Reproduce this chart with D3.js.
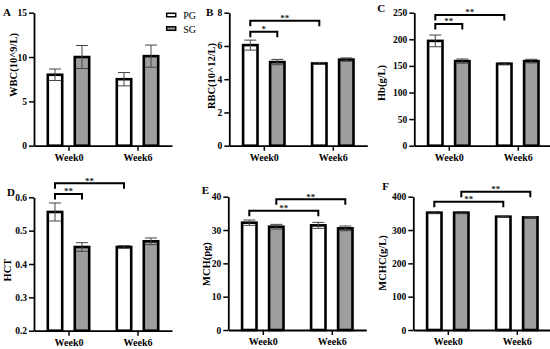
<!DOCTYPE html>
<html><head><meta charset="utf-8">
<script src="https://cdn.jsdelivr.net/npm/d3@7"></script>
<style>body{margin:0;background:#fff} svg{display:block}</style>
</head><body>
<svg id="c" width="550" height="349"></svg>
<script>
const groups = ["Week0", "Week6"];
const series = ["PG", "SG"];
// values ordered [PG-Week0, SG-Week0, PG-Week6, SG-Week6]
const wbcMean = [8.0, 10.0, 7.5, 10.1];
const wbcErr = [0.65, 1.3, 0.75, 1.25];
const rbcMean = [6.05, 5.03, 4.95, 5.18];
const rbcErr = [0.3, 0.16, 0.06, 0.1];
const hbMean = [197, 159, 154, 159];
const hbErr = [11, 4, 2, 3.5];
const hctMean = [0.556, 0.451, 0.451, 0.468];
const hctErr = [0.027, 0.013, 0.004, 0.01];
const mchMean = [32.2, 31.0, 31.4, 30.5];
const mchErr = [0.8, 0.7, 0.9, 0.7];
const mchcMean = [352, 352, 340, 338];
const mchcErr = [3, 3, 2, 2];

const wbcTicks = [0, 5, 10, 15];
const rbcTicks = [0, 2, 4, 6, 8];
const hbTicks = [0, 50, 100, 150, 200, 250];
const hctTicks = [0.2, 0.3, 0.4, 0.5, 0.6];
const mchTicks = [0, 10, 20, 30, 40];
const mchcTicks = [0, 100, 200, 300, 400];

// significance brackets: [fromBarIndex, toBarIndex, level (data units), label]
const wbcSig = [];
const rbcSig = [[0, 1, 6.86, "*"], [0, 2, 7.52, "**"]];
const hbSig = [[0, 1, 228.8, "**"], [0, 2, 245.7, "**"]];
const hctSig = [[0, 1, 0.61, "**"], [0, 2, 0.642, "**"]];
const mchSig = [[0, 2, 35.8, "**"], [1, 3, 39.2, "**"]];
const mchcSig = [[0, 2, 385, "**"], [1, 3, 415, "**"]];

const panels = [
  {id: "A", title: "WBC(10^9/L)", mean: wbcMean, err: wbcErr, ticks: wbcTicks, sig: wbcSig, domain: [0, 15], fmt: d3.format("d"),
   left: 34, top: 12.7, bottom: 145.7, lx: 3, ly: 16, tx: 13.5, ty: 65},
  {id: "B", title: "RBC(10^12/L)", mean: rbcMean, err: rbcErr, ticks: rbcTicks, sig: rbcSig, domain: [0, 8], fmt: d3.format("d"),
   left: 229.3, top: 12.7, bottom: 145.7, lx: 206, ly: 16, tx: 211.7, ty: 76},
  {id: "C", title: "Hb(g/L)", mean: hbMean, err: hbErr, ticks: hbTicks, sig: hbSig, domain: [0, 250], fmt: d3.format("d"),
   left: 414.3, top: 12.7, bottom: 145.7, lx: 377.3, ly: 11.7, tx: 381, ty: 83},
  {id: "D", title: "HCT", mean: hctMean, err: hctErr, ticks: hctTicks, sig: hctSig, domain: [0.2, 0.6], fmt: d3.format(".1f"),
   left: 34, top: 197.3, bottom: 330.7, lx: 7, ly: 196, tx: 7, ty: 270},
  {id: "E", title: "MCH(pg)", mean: mchMean, err: mchErr, ticks: mchTicks, sig: mchSig, domain: [0, 40], fmt: d3.format("d"),
   left: 228.3, top: 196.7, bottom: 330, lx: 201.7, ly: 194, tx: 206.5, ty: 264},
  {id: "F", title: "MCHC(g/L)", mean: mchcMean, err: mchcErr, ticks: mchcTicks, sig: mchcSig, domain: [0, 400], fmt: d3.format("d"),
   left: 413.3, top: 196.7, bottom: 330, lx: 382.3, ly: 190, tx: 382, ty: 263}
];

const FONT = "'Liberation Serif','Times New Roman',serif";
const svg = d3.select("#c");
const GRAY = "#9e9e9e";

panels.forEach(p => {
  const g = svg.append("g");
  const y = d3.scaleLinear().domain(p.domain).range([p.bottom, p.top]);
  const x = d3.scalePoint().domain(groups).range([p.left, p.left + 138]).padding(0.5);
  const xs = d3.scaleBand().domain(series).range([-22, 22]).paddingInner(0.37);

  const data = [];
  groups.forEach((gr, gi) => series.forEach((s, si) => {
    data.push({gr, s, v: p.mean[gi * 2 + si], e: p.err[gi * 2 + si]});
  }));
  const cx = d => x(d.gr) + xs(d.s) + xs.bandwidth() / 2;

  // bars
  g.selectAll("rect.bar").data(data).join("rect").attr("class", "bar")
    .attr("x", d => x(d.gr) + xs(d.s) + 1.3)
    .attr("width", xs.bandwidth() - 2.6)
    .attr("y", d => y(d.v))
    .attr("height", d => y(p.domain[0]) - y(d.v))
    .attr("fill", d => d.s === "PG" ? "#fff" : GRAY)
    .attr("stroke", "#000").attr("stroke-width", 2.6);

  // error bars
  const eb = g.selectAll("g.eb").data(data).join("g").attr("class", "eb")
    .attr("stroke", "#444").attr("stroke-width", 1);
  eb.append("line").attr("x1", cx).attr("x2", cx)
    .attr("y1", d => y(d.v - d.e)).attr("y2", d => y(d.v + d.e));
  eb.append("line").attr("x1", d => cx(d) - 6).attr("x2", d => cx(d) + 6)
    .attr("y1", d => y(d.v + d.e)).attr("y2", d => y(d.v + d.e));
  eb.append("line").attr("x1", d => cx(d) - 6).attr("x2", d => cx(d) + 6)
    .attr("y1", d => y(d.v - d.e)).attr("y2", d => y(d.v - d.e));

  // axes
  const ya = g.append("g").attr("transform", `translate(${p.left},0)`)
    .call(d3.axisLeft(y).tickValues(p.ticks).tickFormat(p.fmt).tickSize(5).tickSizeOuter(0).tickPadding(2));
  const xa = g.append("g").attr("transform", `translate(0,${p.bottom})`)
    .call(d3.axisBottom(x).tickSize(5).tickSizeOuter(0).tickPadding(3));
  [ya, xa].forEach(a => {
    a.select(".domain").attr("stroke", "#000").attr("stroke-width", 1.8);
    a.selectAll(".tick line").attr("stroke", "#000").attr("stroke-width", 1.5);
    a.selectAll("text").attr("font-family", FONT).attr("font-weight", "bold").attr("fill", "#000");
  });
  ya.selectAll("text").attr("font-size", 9.5);
  xa.selectAll("text").attr("font-size", 10);

  // significance brackets
  p.sig.forEach(([a, b, lvl, lab]) => {
    const x1 = cx(data[a]), x2 = cx(data[b]), yy = y(lvl);
    g.append("path").attr("d", `M${x1},${yy + 5.5}V${yy}H${x2}V${yy + 5.5}`)
      .attr("fill", "none").attr("stroke", "#000").attr("stroke-width", 2);
    g.append("text").attr("x", (x1 + x2) / 2).attr("y", yy + 0.5)
      .attr("text-anchor", "middle").attr("font-family", FONT).attr("font-weight", "bold")
      .attr("font-size", 9).attr("fill", "#222").text(lab);
  });

  // panel label
  g.append("text").attr("x", p.lx).attr("y", p.ly).attr("font-family", FONT)
    .attr("font-weight", "bold").attr("font-size", 11).text(p.id);
  // y title
  g.append("text").attr("transform", `translate(${p.tx},${p.ty}) rotate(-90)`)
    .attr("text-anchor", "middle").attr("dominant-baseline", "central")
    .attr("font-family", FONT).attr("font-weight", "bold").attr("font-size", 10.5).text(p.title);
});

// legend
const leg = svg.append("g");
series.forEach((s, i) => {
  leg.append("rect").attr("x", 166.7).attr("y", 13.3 + i * 13.5).attr("width", 9).attr("height", 3.5)
    .attr("fill", s === "PG" ? "#fff" : GRAY).attr("stroke", "#000").attr("stroke-width", 1.5);
  leg.append("text").attr("x", 183.3).attr("y", 18.5 + i * 14).attr("font-family", FONT)
    .attr("font-size", 10).text(s);
});
</script>
</body></html>
